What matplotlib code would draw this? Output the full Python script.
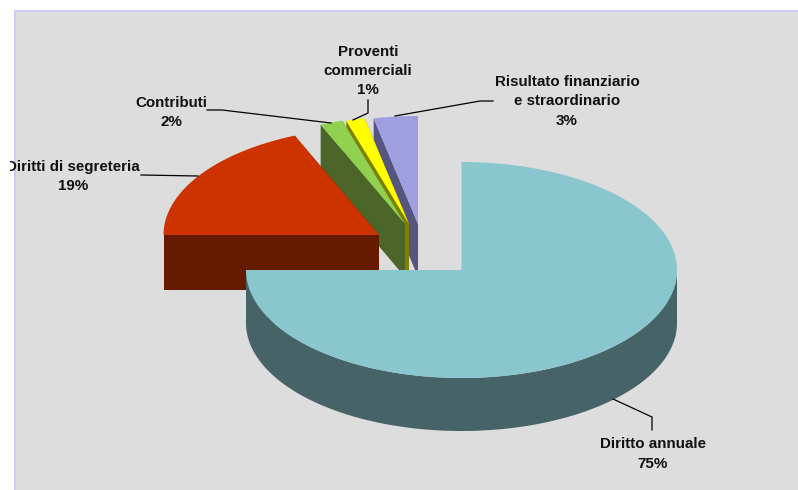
import numpy as np
import matplotlib
matplotlib.use("Agg")
import matplotlib.pyplot as plt
from matplotlib.patches import Polygon, Rectangle

# --- data ---
categories = ["Diritto annuale", "Diritti di segreteria", "Contributi",
              "Proventi\ncommerciali", "Risultato finanziario\ne straordinario"]
shares = [75.0, 18.6, 1.7, 1.4, 3.3]
share_labels = ["75%", "19%", "2%", "1%", "3%"]

# --- styling ---
top_colors = ["#8AC6CE", "#CC3300", "#92D050", "#FFFF00", "#9F9FDF"]
side_colors = ["#466368", "#661A00", "#4B6628", "#808000", "#555580"]
slice_centers = [(461.5, 270), (379, 235), (405, 224), (409, 224), (418, 224)]
slice_depths = [53, 55, 53, 53, 53]
RX, RY = 215.5, 108

label_centers = [(653, 444), (73, 166.5), (171, 102.5), (368, 51.5), (567, 81.5)]
LINE_STEP = 19.5
leaders = [
    [(652, 430), (652, 417), (613, 399)],
    [(141, 175), (198, 176)],
    [(207, 110), (222, 110), (331, 123)],
    [(368, 100), (368, 113), (353, 120)],
    [(493, 101), (480, 101), (395, 116)],
]

fig = plt.figure(figsize=(7.98, 4.9), dpi=100, facecolor="white")
ax = fig.add_axes([0, 0, 1, 1])
ax.set_xlim(0, 798)
ax.set_ylim(490, 0)
ax.axis("off")

ax.add_patch(Rectangle((14, 10), 800, 500, facecolor="#CCCCFF", edgecolor="none", zorder=0))
ax.add_patch(Rectangle((16, 12), 800, 500, facecolor="#DDDDDD", edgecolor="none", zorder=0.5))
text_clip = Rectangle((10, 0), 800, 500, transform=ax.transData)


def rim_point(center, deg, drop=0.0):
    """Ellipse point; deg runs clockwise from 12 o'clock."""
    t = np.radians(deg)
    return center[0] + RX * np.sin(t), center[1] - RY * np.cos(t) + drop


def arc(center, a, b, drop=0.0):
    ts = np.linspace(a, b, max(int(abs(b - a) * 2), 2))
    return [rim_point(center, t, drop) for t in ts]


# Slice angles follow from the shares, in cumulative order
edges = np.concatenate([[0.0], np.cumsum(shares)]) * 360.0 / sum(shares)

# back slices first, front slice (first category) last
for i in range(len(shares) - 1, -1, -1):
    z = 2 + (len(shares) - i)
    a, b = edges[i], edges[i + 1]
    c = slice_centers[i]
    depth = slice_depths[i]
    cb = (c[0], c[1] + depth)
    # radial walls
    for ang in (b, a):
        p = rim_point(c, ang)
        q = rim_point(c, ang, depth)
        ax.add_patch(Polygon([c, p, q, cb], closed=True, facecolor=side_colors[i],
                             edgecolor="none", zorder=z))
    # outer rim on the front half
    lo, hi = max(a, 90), min(b, 270)
    if hi > lo:
        ax.add_patch(Polygon(arc(c, lo, hi) + arc(c, hi, lo, depth), closed=True,
                             facecolor=side_colors[i], edgecolor="none", zorder=z))
    # top face
    ax.add_patch(Polygon([c] + arc(c, a, b), closed=True, facecolor=top_colors[i],
                         edgecolor="none", zorder=z + 0.1))

# leader lines
for pts in leaders:
    xs, ys = zip(*pts)
    ax.plot(xs, ys, color="black", lw=0.9, zorder=20, solid_joinstyle="miter")

# labels
for name, pct, (x, y) in zip(categories, share_labels, label_centers):
    for k, line in enumerate(name.split("\n") + [pct]):
        t = ax.text(x, y + k * LINE_STEP, line, ha="center", va="center",
                    fontsize=10.9, fontweight="bold", family="Liberation Sans",
                    color="#111111", zorder=21)
        t.set_clip_on(True)
        t.set_clip_path(text_clip)

fig.savefig("out.png", dpi=100, facecolor="white")
